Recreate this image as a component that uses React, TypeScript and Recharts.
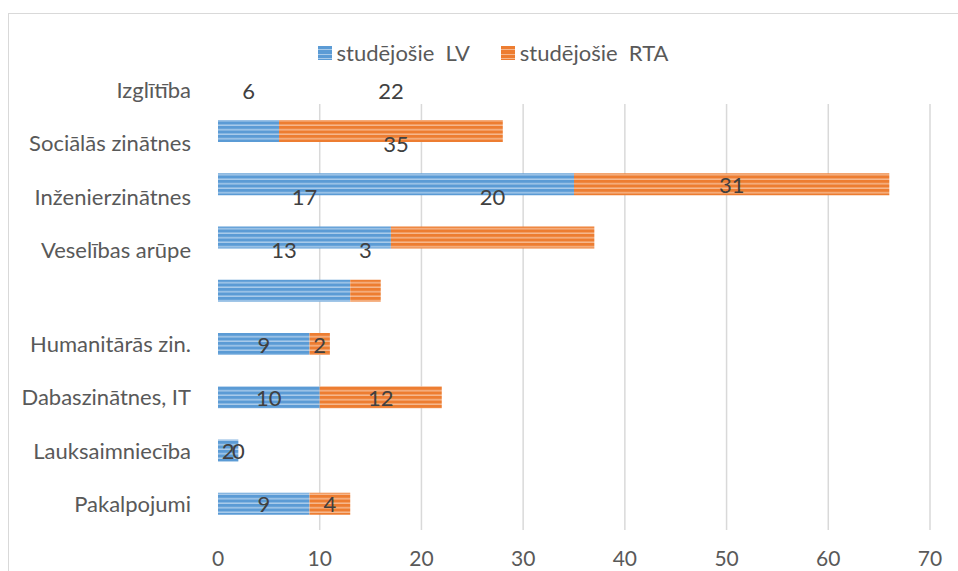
import { BarChart, Bar, XAxis, YAxis, CartesianGrid, Legend, LabelList } from "recharts";

const categories = [
  "Izglītība",
  "Sociālās zinātnes",
  "Inženierzinātnes",
  "Veselības arūpe",
  "Humanitārās zin.",
  "Dabaszinātnes, IT",
  "Lauksaimniecība",
  "Pakalpojumi",
];
const studejosieLV = [6, 35, 17, 13, 9, 10, 2, 9];
const studejosieRTA = [22, 31, 20, 3, 2, 12, 0, 4];
const xTicks = [0, 10, 20, 30, 40, 50, 60, 70];
const seriesNames = ["studējošie  LV", "studējošie  RTA"];

const data = categories.map((name, i) => ({
  name,
  lv: studejosieLV[i],
  rta: studejosieRTA[i],
}));

// the source render has the top labels lifted above their bars
const LIFT = -41;
const liftedLV = [0, 1, 2, 3];
const liftedRTA = [0, 2, 3];

const FONT = "Lato, 'Open Sans', sans-serif";
const AXIS_GRAY = "#595959";

const CategoryTick = (props: any) => {
  const { x, y, payload, index } = props;
  const dy = index < 4 ? LIFT : 0;
  return (
    <text
      x={x}
      y={y + dy}
      textAnchor="end"
      dominantBaseline="central"
      fill={AXIS_GRAY}
      fontSize={22}
      fontFamily={FONT}
    >
      {payload.value}
    </text>
  );
};

const makeLabel = (lifted: number[]) => (props: any) => {
  const { x, y, width, height, value, index } = props;
  const dy = lifted.includes(index) ? LIFT : 0;
  return (
    <text
      x={Number(x) + Number(width) / 2}
      y={Number(y) + Number(height) / 2 + dy}
      textAnchor="middle"
      dominantBaseline="central"
      fill="#404040"
      fontSize={22}
      fontFamily={FONT}
    >
      {value}
    </text>
  );
};

const legendSwatch = (base: string, light: string) =>
  `repeating-linear-gradient(to bottom, ${base} 0px, ${base} 3px, ${light} 3px, ${light} 4.5px)`;

const LegendContent = () => (
  <div
    style={{
      display: "flex",
      justifyContent: "center",
      gap: 31,
      paddingLeft: 28,
      fontFamily: FONT,
      fontSize: 22,
      lineHeight: "26px",
      color: AXIS_GRAY,
    }}
  >
    {[
      { name: seriesNames[0], bg: legendSwatch("#5B9BD5", "#A9CBEA") },
      { name: seriesNames[1], bg: legendSwatch("#ED7D31", "#F6B88E") },
    ].map((s) => (
      <div key={s.name} style={{ display: "flex", alignItems: "center", gap: 5 }}>
        <span style={{ width: 14, height: 14, display: "inline-block", background: s.bg }} />
        <span style={{ whiteSpace: "pre" }}>{s.name}</span>
      </div>
    ))}
  </div>
);

export default function App() {
  return (
    <div
      style={{
        position: "absolute",
        left: 0,
        top: 0,
        width: 958,
        height: 571,
        overflow: "hidden",
        background: "#fff",
      }}
    >
      <div
        style={{
          position: "absolute",
          left: 8,
          top: 13,
          width: 980,
          height: 600,
          border: "1.5px solid #d9d9d9",
        }}
      />
      <div style={{ position: "absolute", left: 0, top: 0 }}>
        <BarChart
          width={958}
          height={571}
          data={data}
          layout="vertical"
          margin={{ top: 104, right: 28, left: 0, bottom: 0 }}
        >
          <defs>
            <pattern id="stripeBlue" width="8" height="4.5" patternUnits="userSpaceOnUse">
              <rect width="8" height="4.5" fill="#5B9BD5" />
              <rect y="3" width="8" height="1.5" fill="#A9CBEA" />
            </pattern>
            <pattern id="stripeOrange" width="8" height="4.5" patternUnits="userSpaceOnUse">
              <rect width="8" height="4.5" fill="#ED7D31" />
              <rect y="3" width="8" height="1.5" fill="#F6B88E" />
            </pattern>
          </defs>
          <CartesianGrid
            horizontal={false}
            stroke="#d9d9d9"
            strokeWidth={1.5}
            verticalCoordinatesGenerator={(p: any) => {
              const scale = p?.xAxis?.scale;
              if (typeof scale === "function") return xTicks.slice(1).map((t) => scale(t));
              const { offset } = p;
              return xTicks.slice(1).map((t) => offset.left + (t / 70) * offset.width);
            }}
          />
          <XAxis
            type="number"
            domain={[0, 70]}
            ticks={xTicks}
            axisLine={false}
            tickLine={false}
            tickSize={0}
            tickMargin={21}
            height={41}
            tick={{ fill: AXIS_GRAY, fontSize: 21, fontFamily: FONT }}
          />
          <YAxis
            type="category"
            dataKey="name"
            width={218}
            axisLine={false}
            tickLine={false}
            tickSize={0}
            tickMargin={27}
            tick={<CategoryTick />}
            interval={0}
          />
          <Legend
            verticalAlign="middle"
            content={<LegendContent />}
            wrapperStyle={{ top: 40, left: 0, width: 958 }}
          />
          <Bar
            dataKey="lv"
            name={seriesNames[0]}
            stackId="s"
            fill="url(#stripeBlue)"
            barSize={22}
            isAnimationActive={false}
          >
            <LabelList dataKey="lv" content={makeLabel(liftedLV)} />
          </Bar>
          <Bar
            dataKey="rta"
            name={seriesNames[1]}
            stackId="s"
            fill="url(#stripeOrange)"
            barSize={22}
            minPointSize={0.01}
            isAnimationActive={false}
          >
            <LabelList dataKey="rta" content={makeLabel(liftedRTA)} />
          </Bar>
        </BarChart>
      </div>
    </div>
  );
}
